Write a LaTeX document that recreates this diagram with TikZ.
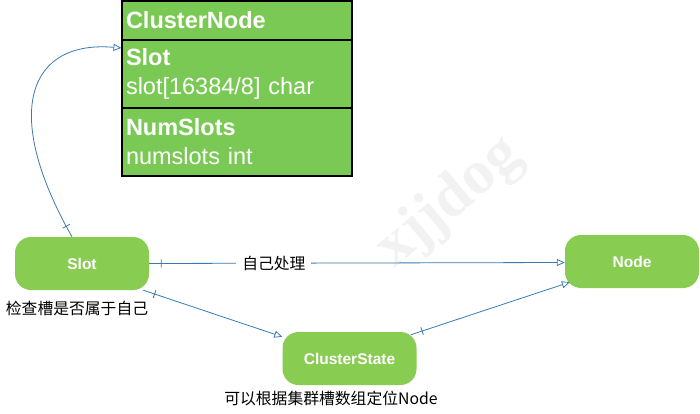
\documentclass[tikz,border=0pt]{standalone}
\usepackage{fontspec}
\setmainfont{Liberation Sans}
\newfontfamily\cjk{Noto Sans CJK SC}
\newfontfamily\wmfont{Liberation Serif}
\usetikzlibrary{arrows.meta,decorations.markings}
\definecolor{boxgreen}{RGB}{122,201,84}
\definecolor{nodegreen}{RGB}{136,204,82}
\definecolor{linkblue}{RGB}{58,122,178}
\tikzset{
  rowbox/.style={draw=black, line width=1.1pt, fill=boxgreen, text=white,
    minimum width=230pt, text width=222pt, inner xsep=4pt, inner ysep=0pt, align=left,
    font=\fontsize{23.5}{29}\selectfont},
  rnode/.style={fill=nodegreen, rounded corners=16pt, text=white,
    minimum width=134pt, minimum height=53pt, font=\fontsize{15.5}{18}\selectfont\bfseries},
  cjklabel/.style={font=\cjk\fontsize{15.8}{18}\selectfont, inner sep=1pt},
  link/.style={draw=linkblue, line width=0.8pt, -{Triangle[open, length=8pt, width=7pt]},
    postaction={decorate, decoration={markings,
      mark=at position 12pt with {\draw[-, linkblue, line width=0.8pt] (0,-4pt) -- (0,4pt);}}}},
}
\begin{document}
\begin{tikzpicture}[x=1pt, y=-1pt]
\path[use as bounding box] (0,0) rectangle (700,414);
% watermark
\node[font=\wmfont\bfseries\fontsize{62}{62}\selectfont, text=black!5, rotate=40] (wm) at (450,203) {xjjdog};
% ClusterNode box
\node[rowbox, minimum height=39pt] (cnhead) at (237,20.5) {\textbf{ClusterNode}};
\node[rowbox, minimum height=68pt] (cnslot) at (237,74) {\textbf{Slot}\\slot[16384/8] char};
\node[rowbox, minimum height=68pt] (cnnum) at (237,142) {\textbf{NumSlots}\\numslots int};
% nodes
\node[rnode] (slot) at (82,263.5) {Slot};
\node[rnode] (node) at (632,261.5) {Node};
\node[rnode] (cs) at (349.5,358.5) {ClusterState};
% labels
\node[cjklabel] (lslot) at (77,308) {检查槽是否属于自己};
\node[cjklabel] (lcs) at (331,398) {可以根据集群槽数组定位Node};
% connectors
\draw[link] ([xshift=-10pt]slot.north) .. controls (0,110) and (30,40) .. ([yshift=26pt]cnslot.west);
\draw[link] (slot.east) -- node[cjklabel, fill=white, inner xsep=6pt, pos=0.3] (lself) {自己处理} ([yshift=-1pt]node.west);
\draw[link] ([xshift=-6pt]slot.south east) -- ([yshift=-5pt]cs.north west);
\draw[link] ([xshift=-6pt,yshift=-3pt]cs.north east) -- ([xshift=5pt,yshift=6pt]node.south west);
\end{tikzpicture}
\end{document}
